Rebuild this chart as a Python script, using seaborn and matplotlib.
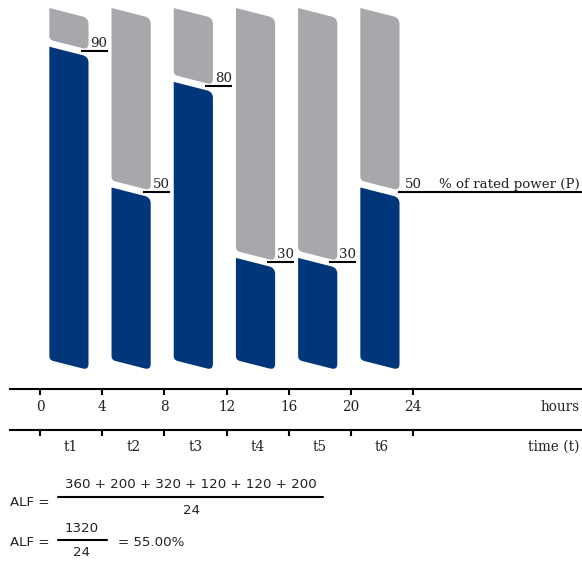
import numpy as np
import matplotlib.pyplot as plt
import seaborn as sns
from matplotlib.path import Path
from matplotlib.patches import PathPatch
from matplotlib.lines import Line2D

# data
periods = ['t1', 't2', 't3', 't4', 't5', 't6']
period_start = [0, 4, 8, 12, 16, 20]
period_hours = [4, 4, 4, 4, 4, 4]
rated_pct = [90, 50, 80, 30, 30, 50]
hour_ticks = [0, 4, 8, 12, 16, 20, 24]

NAVY = '#00377a'
GREY = '#a7a8ab'

sns.set_theme(style='white')
plt.rcParams['font.family'] = ['DejaVu Serif']

W, H = 582, 564
fig = plt.figure(figsize=(W / 100, H / 100), dpi=100)

# pixel anchors of the hour / percent scales
x0_px, x24_px = 40, 413.2
y0_px, y100_px = 360, 8
sx = (x24_px - x0_px) / 24      # px per hour
sy = (y0_px - y100_px) / 100    # px per percent

ax = fig.add_axes([0, 0, 1, 1])
ax.set_xlim(-x0_px / sx, (W - x0_px) / sx)
ax.set_ylim(-(H - y0_px) / sy, y0_px / sy)
ax.axis('off')


def fx(px):
    return px / W


def fy(py):
    return 1 - py / H


def rounded_path(pts, radii):
    # round corners in pixel space so they look circular
    P = np.array([[x * sx, y * sy] for x, y in pts])
    n = len(P)
    verts, codes = [], []
    for i in range(n):
        p, a, b = P[i], P[i - 1], P[(i + 1) % n]
        r = radii[i]
        u = (a - p) / np.linalg.norm(a - p)
        v = (b - p) / np.linalg.norm(b - p)
        verts.append(p + r * u)
        codes.append(Path.MOVETO if i == 0 else Path.LINETO)
        verts += [p, p + r * v]
        codes += [Path.CURVE3, Path.CURVE3]
    verts.append(verts[0])
    codes.append(Path.CLOSEPOLY)
    return Path(np.array(verts) / [sx, sy], codes)


slant = 10 / sy
gap = 3.5 / sy
radii = [0.01, 6, 6, 4]

for i, (start, dur, pct) in enumerate(zip(period_start, period_hours, rated_pct)):
    l = start + 0.15 * dur
    r = l + 0.63 * dur
    grey = [(l, 100), (r, 100 - slant), (r, pct - slant + gap), (l, pct + gap)]
    navy = [(l, pct - gap), (r, pct - slant - gap), (r, -slant), (l, 0)]
    ax.add_patch(PathPatch(rounded_path(grey, radii), fc=GREY, ec='none'))
    ax.add_patch(PathPatch(rounded_path(navy, radii), fc=NAVY, ec='none'))

    ly = pct - slant + 0.6
    last = i == len(rated_pct) - 1
    x_end = ax.get_xlim()[1] if last else r + 19 / sx
    x_beg = r - 2 / sx if last else r - 8 / sx
    ax.plot([x_beg, x_end], [ly, ly], color='black', lw=1.5, solid_capstyle='butt')
    ax.text(r + (5 if last else 2) / sx, ly + 1 / sy, str(pct), fontsize=9.6,
            ha='left', va='bottom', color='#222222')

ax.text((580 - x0_px) / sx, rated_pct[-1] - slant + 0.6 + 1 / sy, '% of rated power (P)',
        fontsize=9.6, ha='right', va='bottom', color='#222222')


def time_axis(y_px):
    a = fig.add_axes([fx(10), fy(y_px), (W - 10) / W, 1e-4])
    a.set_xlim((10 - x0_px) / sx, (W - x0_px) / sx)
    a.set_yticks([])
    for s in ['top', 'left', 'right']:
        a.spines[s].set_visible(False)
    a.spines['bottom'].set_color('black')
    a.spines['bottom'].set_linewidth(1.5)
    a.set_facecolor('none')
    return a


a1 = time_axis(389)
a1.set_xticks(hour_ticks)
a1.set_xticklabels([str(h) for h in hour_ticks])
a1.tick_params(axis='x', bottom=True, direction='out', length=4.5, width=1.5,
               pad=3.2, labelsize=9.8, colors='black', labelcolor='#222222')
a1.text((580 - x0_px) / sx, 0, 'hours', transform=a1.transData, fontsize=9.8,
        ha='right', va='center', color='#222222')
a1.texts[-1].set_y(0)

a2 = time_axis(430)
a2.set_xticks(hour_ticks)
a2.set_xticklabels([''] * len(hour_ticks))
a2.set_xticks([s + d / 2 for s, d in zip(period_start, period_hours)], minor=True)
a2.set_xticklabels(periods, minor=True)
a2.tick_params(axis='x', which='major', bottom=True, direction='out', length=4.5, width=1.5,
               colors='black')
a2.tick_params(axis='x', which='minor', bottom=True, length=0, pad=7.5, labelsize=9.8,
               labelcolor='#222222')

fig.text(fx(580), fy(407), 'hours', fontsize=9.8, ha='right', va='center', color='#222222')
fig.text(fx(580), fy(447), 'time (t)', fontsize=9.8, ha='right', va='center', color='#222222')
a1.texts[-1].remove()

# ALF formula
energy = [p * d for p, d in zip(rated_pct, period_hours)]
total = sum(energy)
hours_total = sum(period_hours)
alf = total / hours_total
sans = dict(family=['DejaVu Sans'], fontsize=9.6, color='#222222')

fig.text(fx(10), fy(502), 'ALF =', ha='left', va='center', **sans)
fig.text(fx(191), fy(485), ' + '.join(str(e) for e in energy), ha='center', va='center', **sans)
fig.add_artist(Line2D([fx(58), fx(323)], [fy(497), fy(497)], color='black', lw=1.5))
fig.text(fx(191), fy(510), str(hours_total), ha='center', va='center', **sans)

fig.text(fx(10), fy(542), 'ALF =', ha='left', va='center', **sans)
fig.text(fx(82), fy(529), str(total), ha='center', va='center', **sans)
fig.add_artist(Line2D([fx(58), fx(107)], [fy(540), fy(540)], color='black', lw=1.5))
fig.text(fx(82), fy(553), str(hours_total), ha='center', va='center', **sans)
fig.text(fx(118), fy(542), '= %.2f%%' % alf, ha='left', va='center', **sans)

fig.savefig('out.png', dpi=100)
